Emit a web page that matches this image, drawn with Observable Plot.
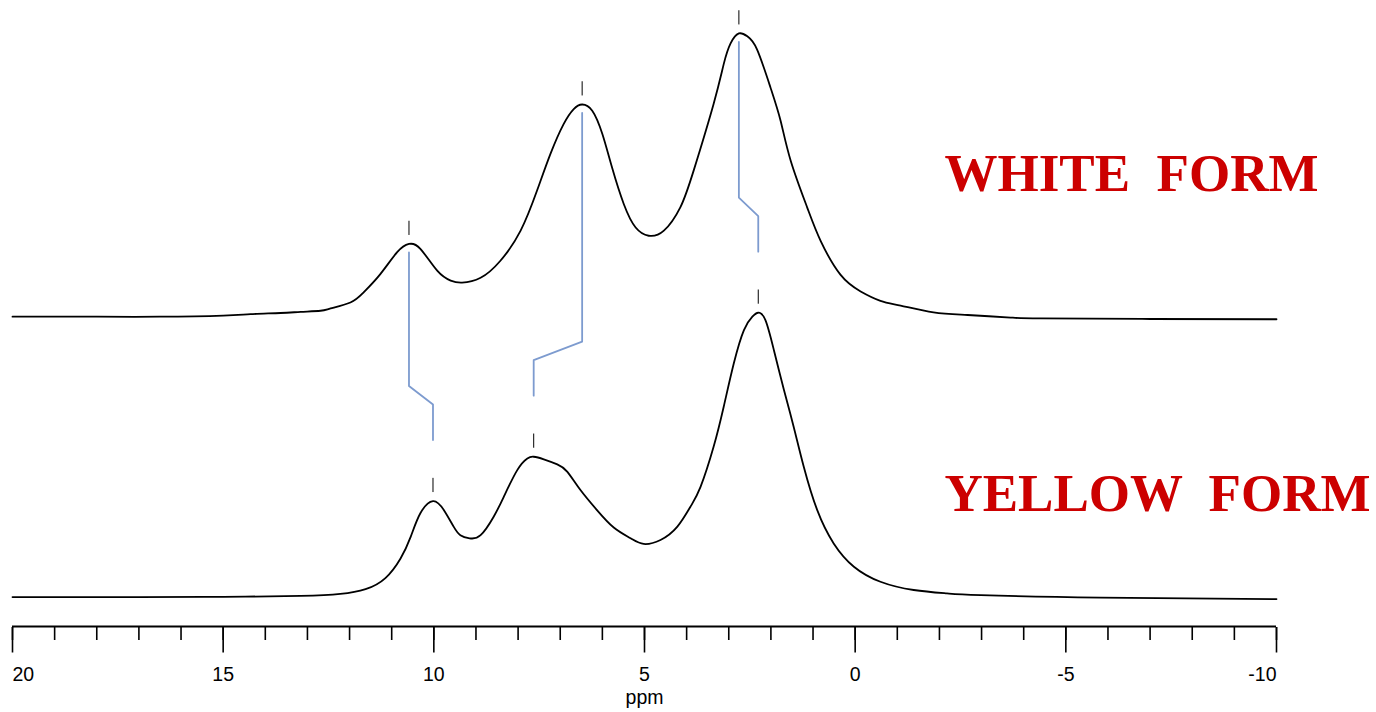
<!DOCTYPE html>
<html>
<head>
<meta charset="utf-8">
<script src="https://cdn.jsdelivr.net/npm/d3@7"></script>
<script src="https://cdn.jsdelivr.net/npm/@observablehq/plot@0.6"></script>
<style>
  html, body { margin: 0; padding: 0; background: #fff; }
  svg text { white-space: pre; }
</style>
</head>
<body>
<div id="chart"></div>
<script>
// 1H solid-state NMR spectra of the two polymorphs (chemical shift in ppm, relative intensity)
const whitePpm = [20.0, 18.0, 16.5, 15.0, 14.35, 13.64, 13.16, 12.69, 12.45, 11.98, 11.67, 11.27, 10.87, 10.59, 10.32, 9.92, 9.60, 9.33, 8.89, 8.42, 7.94, 7.55, 7.23, 6.92, 6.68, 6.48, 6.24, 6.00, 5.77, 5.49, 5.21, 4.90, 4.54, 4.15, 3.83, 3.36, 3.12, 2.96, 2.76, 2.56, 2.33, 2.01, 1.77, 1.53, 1.14, 0.82, 0.35, -0.13, -0.60, -1.08, -1.86, -2.67, -3.69, -4.40, -7.0, -10.0];
const whiteInt = [0.9, 0.9, 0.9, 1.3, 1.8, 2.2, 2.6, 3.0, 3.8, 5.9, 9.4, 15.9, 23.6, 26.5, 24.8, 17.1, 13.6, 12.9, 14.6, 20.6, 31.2, 45.3, 58.3, 68.7, 74.0, 75.6, 73.4, 65.2, 53.4, 40.5, 32.3, 29.4, 31.2, 39.4, 52.5, 75.8, 89.8, 97.0, 100.6, 99.6, 95.0, 81.6, 69.9, 55.8, 39.4, 27.6, 15.7, 9.8, 6.5, 4.8, 2.4, 1.5, 0.6, 0.3, 0.1, 0.0];

const yellowPpm = [20.0, 17.0, 15.0, 13.16, 12.22, 11.62, 11.15, 10.79, 10.55, 10.32, 10.02, 9.76, 9.53, 9.37, 9.15, 8.89, 8.58, 8.34, 8.02, 7.78, 7.63, 7.39, 7.07, 6.83, 6.52, 6.12, 5.73, 5.33, 5.02, 4.62, 4.22, 3.91, 3.67, 3.36, 3.12, 2.88, 2.64, 2.44, 2.30, 2.13, 1.93, 1.69, 1.46, 1.22, 0.90, 0.51, 0.03, -0.60, -1.39, -2.18, -2.98, -5.82, -10.0];
const yellowInt = [0.7, 0.7, 0.8, 1.1, 1.8, 3.5, 7.4, 14.3, 21.9, 30.2, 34.5, 31.3, 25.5, 22.5, 21.4, 22.5, 29.0, 36.0, 45.4, 49.5, 50.1, 49.2, 47.4, 44.8, 38.4, 31.2, 25.2, 21.4, 19.4, 20.8, 25.5, 32.5, 39.5, 53.6, 67.7, 83.0, 94.7, 99.4, 100.8, 98.2, 87.7, 73.6, 60.7, 46.6, 31.3, 19.6, 11.4, 6.1, 3.2, 2.0, 1.4, 0.5, 0.0];

// Picked peaks; the i-th white peak is correlated with the i-th yellow peak
const whitePeaks = [10.59, 6.48, 2.76];
const yellowPeaks = [10.02, 7.63, 2.30];

const formLabels = ["WHITE  FORM", "YELLOW  FORM"];
const majorTicks = [20, 15, 10, 5, 0, -5, -10];
const minorTicks = d3.range(-10, 21, 1);

// The white-form trace is stacked above the yellow-form trace
const OFFSET = 98.5;

const rows = [
  ...whitePpm.map((p, i) => ({form: "white", ppm: p, y: whiteInt[i] + OFFSET})),
  ...yellowPpm.map((p, i) => ({form: "yellow", ppm: p, y: yellowInt[i]}))
];

const heightAt = (ppms, ints, p) => ints[ppms.indexOf(p)];

const peakRows = [
  ...whitePeaks.map(p => ({ppm: p, y: heightAt(whitePpm, whiteInt, p) + OFFSET})),
  ...yellowPeaks.map(p => ({ppm: p, y: heightAt(yellowPpm, yellowInt, p)}))
];

// Correlation leaders: drop from a white peak, jog over to the matching yellow peak
const connectors = whitePeaks.flatMap((w, i) => {
  const yp = yellowPeaks[i];
  const top = heightAt(whitePpm, whiteInt, w) + OFFSET;
  const bottom = heightAt(yellowPpm, yellowInt, yp);
  return [
    {pair: i, ppm: w, y: top - 3},
    {pair: i, ppm: w, y: bottom + 40.5},
    {pair: i, ppm: yp, y: bottom + 34},
    {pair: i, ppm: yp, y: bottom + 21.5}
  ];
});

const fmt = d => String(d);
const tickStyle = {tickSize: 25.5, tickPadding: 14.5, fontSize: 19.5, tickFormat: fmt, label: null, strokeWidth: 1.6};

const chart = Plot.plot({
  width: 1376,
  height: 712,
  marginLeft: 12,
  marginRight: 100,
  marginTop: 2,
  marginBottom: 85,
  x: {domain: [20, -10], label: null},
  y: {domain: [-10, 210], axis: null},
  style: {fontFamily: "'Liberation Sans', Arial, sans-serif", background: "#fff", color: "#000"},
  marks: [
    Plot.line(connectors, {x: "ppm", y: "y", z: "pair", stroke: "#7d9bcf", strokeWidth: 1.8}),
    Plot.line(rows, {x: "ppm", y: "y", z: "form", curve: "natural", stroke: "#000", strokeWidth: 1.8}),
    Plot.ruleX(peakRows, {x: "ppm", y1: d => d.y + 3, y2: d => d.y + 8, stroke: "#000", strokeWidth: 1}),
    Plot.text(formLabels, {
      x: () => -2.12,
      y: (d, i) => (i === 0 ? OFFSET + 45 : 31),
      text: d => d,
      textAnchor: "start",
      lineAnchor: "bottom",
      fill: "#cc0000",
      fontFamily: "'Liberation Serif', 'Times New Roman', serif",
      fontWeight: "bold",
      fontSize: 53
    }),
    Plot.ruleY([-10], {stroke: "#000", strokeWidth: 2, dy: -1}),
    Plot.axisX({ticks: minorTicks, tickSize: 13, tickFormat: () => "", label: null, strokeWidth: 1.6}),
    Plot.axisX({...tickStyle, ticks: majorTicks.slice(1, -1)}),
    Plot.axisX({...tickStyle, ticks: majorTicks.slice(0, 1), textAnchor: "start"}),
    Plot.axisX({...tickStyle, ticks: majorTicks.slice(-1), textAnchor: "end"}),
    Plot.text(["ppm"], {frameAnchor: "bottom", lineAnchor: "bottom", dy: 76, fontSize: 19.5})
  ]
});

document.getElementById("chart").append(chart);
</script>
</body>
</html>
